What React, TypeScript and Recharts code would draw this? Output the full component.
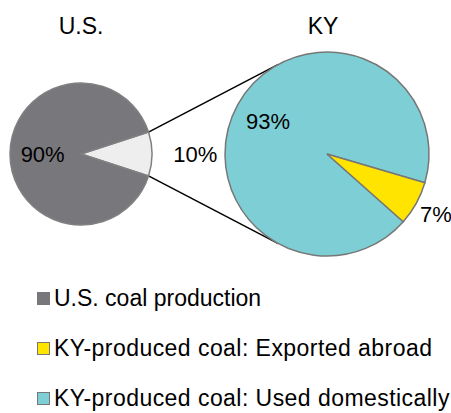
import { PieChart, Pie, Cell, Legend, Customized } from 'recharts';

// U.S. pie: Kentucky's share of U.S. coal production
const usNames = ['KY share', 'U.S. coal production'];
const usValues = [10, 90];

// KY pie: where Kentucky-produced coal goes
const kyNames = ['KY-produced coal: Used domestically', 'KY-produced coal: Exported abroad'];
const kyValues = [93, 7];

const pieTitles = ['U.S.', 'KY'];

const legendLabels = [
  'U.S. coal production',
  'KY-produced coal: Exported abroad',
  'KY-produced coal: Used domestically',
];

const usData = usNames.map((name, i) => ({ name, value: usValues[i] }));
const kyData = kyNames.map((name, i) => ({ name, value: kyValues[i] }));

const FONT = '"Liberation Sans", Arial, sans-serif';
const RAD = Math.PI / 180;

const US_COLORS = ['#eeeeee', '#78777c'];
const KY_COLORS = ['#7ecfd5', '#ffe400'];
const LEGEND_COLORS = ['#78777c', '#ffe400', '#7ecfd5'];

const US = { cx: 81, cy: 154, r: 71, start: -18 };
const KY = { cx: 327, cy: 154, r: 102, start: -16.4 };

const polar = (cx: number, cy: number, r: number, angle: number) => ({
  x: cx + r * Math.cos(-angle * RAD),
  y: cy + r * Math.sin(-angle * RAD),
});

const makeLabel = (factors: number[]) => (props: any) => {
  const { cx, cy, midAngle, outerRadius, index, value } = props;
  const p = polar(cx, cy, outerRadius * factors[index], midAngle);
  return (
    <text
      x={p.x}
      y={p.y}
      textAnchor="middle"
      dominantBaseline="central"
      fontSize={22}
      fontFamily={FONT}
      fill="#000"
    >
      {`${value}%`}
    </text>
  );
};

function Connectors() {
  // the small U.S. slice edges are joined to the KY pie
  const half = (usValues[0] / 100) * 180;
  const a = polar(US.cx, US.cy, US.r, half);
  const b = polar(US.cx, US.cy, US.r, -half);
  const c = polar(KY.cx, KY.cy, KY.r, 118.5);
  const d = polar(KY.cx, KY.cy, KY.r, -118.5);
  return (
    <g>
      <line x1={a.x} y1={a.y} x2={c.x} y2={c.y} stroke="#000" strokeWidth={1.5} />
      <line x1={b.x} y1={b.y} x2={d.x} y2={d.y} stroke="#000" strokeWidth={1.5} />
      <text x={US.cx} y={26} textAnchor="middle" dominantBaseline="central" fontSize={23} fontFamily={FONT}>
        {pieTitles[0]}
      </text>
      <text x={KY.cx - 4} y={26} textAnchor="middle" dominantBaseline="central" fontSize={23} fontFamily={FONT}>
        {pieTitles[1]}
      </text>
    </g>
  );
}

function LegendBox() {
  return (
    <div style={{ fontFamily: FONT, fontSize: 23, color: '#000', lineHeight: '20px' }}>
      {legendLabels.map((label, i) => (
        <div key={label} style={{ display: 'flex', alignItems: 'center', height: 50 }}>
          <span
            style={{
              display: 'inline-block',
              width: 11,
              height: 11,
              background: LEGEND_COLORS[i],
              border: '1px solid #777',
              marginRight: 4,
            }}
          />
          <span style={{ whiteSpace: 'nowrap', letterSpacing: i === 0 ? 0 : 0.45 }}>{label}</span>
        </div>
      ))}
    </div>
  );
}

export default function App() {
  return (
    <div style={{ position: 'absolute', left: 0, top: 0, width: 451, height: 413, background: '#fff' }}>
      <PieChart width={451} height={413} margin={{ top: 0, right: 0, bottom: 0, left: 0 }}>
        <Customized component={<Connectors />} />
        <Pie
          data={usData}
          dataKey="value"
          cx={US.cx}
          cy={US.cy}
          outerRadius={US.r}
          startAngle={US.start}
          endAngle={US.start + 360}
          stroke="#808080"
          strokeWidth={1.5}
          labelLine={false}
          label={makeLabel([1.61, 0.54])}
          isAnimationActive={false}
        >
          {usData.map((d, i) => (
            <Cell key={d.name} fill={US_COLORS[i]} />
          ))}
        </Pie>
        <Pie
          data={kyData}
          dataKey="value"
          cx={KY.cx}
          cy={KY.cy}
          outerRadius={KY.r}
          startAngle={KY.start}
          endAngle={KY.start + 360}
          stroke="#777"
          strokeWidth={1.5}
          labelLine={false}
          label={makeLabel([0.66, 1.22])}
          isAnimationActive={false}
        >
          {kyData.map((d, i) => (
            <Cell key={d.name} fill={KY_COLORS[i]} />
          ))}
        </Pie>
        <Legend
          content={<LegendBox />}
          layout="vertical"
          wrapperStyle={{ position: 'absolute', left: 37, top: 273, width: 420 }}
        />
      </PieChart>
    </div>
  );
}
